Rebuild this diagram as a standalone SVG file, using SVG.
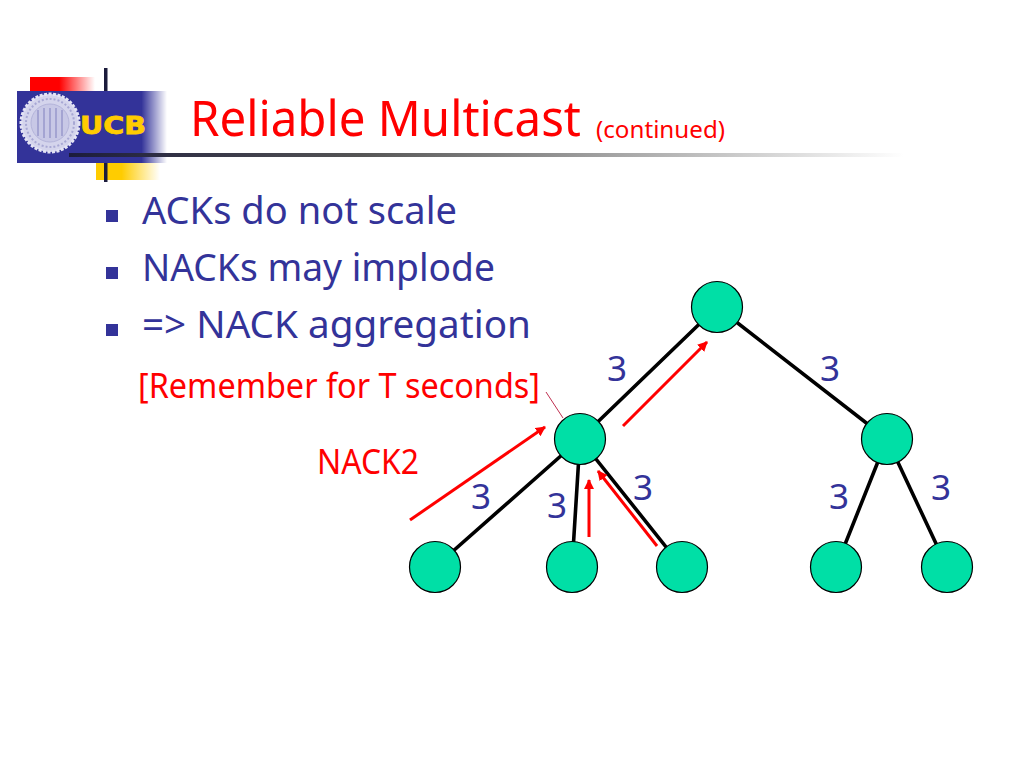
<svg xmlns="http://www.w3.org/2000/svg" width="1024" height="768" viewBox="0 0 1024 768">
<style>
.n{fill:#00dfa6;stroke:#000;stroke-width:1.2}
.e{stroke:#000;stroke-width:3.6;fill:none}
.a{stroke:#f00;stroke-width:3;fill:none;marker-end:url(#ah)}
.b{font-family:"Noto Sans","DejaVu Sans",sans-serif;fill:#333399}
.r{font-family:"Noto Sans","DejaVu Sans",sans-serif;fill:#f00}
.w{font-size:39px}
.l{font-size:35px}
</style>
<defs>
<marker id="ah" markerUnits="userSpaceOnUse" markerWidth="12" markerHeight="12" refX="9" refY="5" orient="auto"><path d="M0 0L10 5L0 10Z" fill="#f00"/></marker>
<linearGradient id="gr"><stop offset="0.45" stop-color="#f00"/><stop offset="1" stop-color="#f00" stop-opacity="0"/></linearGradient>
<linearGradient id="gy"><stop offset="0.4" stop-color="#ffcc00"/><stop offset="1" stop-color="#ffcc00" stop-opacity="0"/></linearGradient>
<linearGradient id="gb"><stop offset="0.83" stop-color="#333399"/><stop offset="1" stop-color="#333399" stop-opacity="0"/></linearGradient>
<linearGradient id="gl"><stop offset="0" stop-color="#1c1c3c"/><stop offset="0.35" stop-color="#555"/><stop offset="1" stop-color="#fff"/></linearGradient>
</defs>
<rect width="1024" height="768" fill="#fff"/>
<g id="logo">
<rect x="30" y="77" width="65" height="15" fill="url(#gr)"/>
<rect x="96" y="163" width="64" height="17" fill="url(#gy)"/>
<rect x="17" y="91" width="150" height="72" fill="url(#gb)"/>
<rect x="104" y="68" width="3.5" height="23" fill="#1c1c3c"/>
<rect x="104" y="163" width="3.5" height="19" fill="#1c1c3c"/>
<circle cx="50" cy="123" r="29" fill="#d4d4ec" stroke="#e4e4f4" stroke-width="3" stroke-dasharray="3 1.5"/>
<circle cx="50" cy="123" r="24" fill="none" stroke="#a8a8d4" stroke-width="2" stroke-dasharray="2 2"/>
<circle cx="50" cy="123" r="19" fill="#c8c8e6" stroke="#b4b4da" stroke-width="1"/>
<path d="M38 110V136M44 108V138M50 108V138M56 108V138M62 110V136" stroke="#a4a4d2" stroke-width="2"/>
<text x="80" y="134" font-family="'DejaVu Sans',sans-serif" font-weight="700" font-size="25" fill="#ffcc00" stroke="#ffcc00" stroke-width="0.8" textLength="66" lengthAdjust="spacingAndGlyphs">UCB</text>
</g>
<rect id="rule" x="69" y="153" width="835" height="4" fill="url(#gl)"/>
<text id="title" class="r" x="190" y="136" font-size="49" textLength="391" lengthAdjust="spacingAndGlyphs">Reliable Multicast</text>
<text id="subtitle" class="r" x="596" y="138" font-size="24" textLength="129" lengthAdjust="spacingAndGlyphs">(continued)</text>
<g id="bullets">
<rect x="106" y="210" width="12" height="12" fill="#333399"/>
<rect x="106" y="267" width="12" height="12" fill="#333399"/>
<rect x="106" y="324" width="12" height="12" fill="#333399"/>
<text class="b w" x="142" y="224" textLength="315" lengthAdjust="spacingAndGlyphs">ACKs do not scale</text>
<text class="b w" x="142" y="281" textLength="353" lengthAdjust="spacingAndGlyphs">NACKs may implode</text>
<text class="b w" x="142" y="338" textLength="389" lengthAdjust="spacingAndGlyphs">=&gt; NACK aggregation</text>
</g>
<text id="remember" class="r" x="138" y="398" font-size="35" textLength="402" lengthAdjust="spacingAndGlyphs">[Remember for T seconds]</text>
<text id="nack2" class="r" x="317" y="474" font-size="34" textLength="102" lengthAdjust="spacingAndGlyphs">NACK2</text>
<g id="connectors">
<path class="e" d="M717 307L580 439M717 307L887 439M580 439L435 567M580 439L572 567M580 439L682 567M887 439L836 567M887 439L947 567"/>
<path d="M546 392L563 418" stroke="#c03050" stroke-width="1" fill="none"/>
<path class="a" d="M623 426L707 342"/>
<path class="a" d="M410 520L545 427"/>
<path class="a" d="M589 537V480"/>
<path class="a" d="M657 546L598 471"/>
</g>
<g id="labels">
<text class="b l" x="607" y="381">3</text>
<text class="b l" x="820" y="381">3</text>
<text class="b l" x="471" y="509">3</text>
<text class="b l" x="547" y="518">3</text>
<text class="b l" x="633" y="500">3</text>
<text class="b l" x="829" y="509">3</text>
<text class="b l" x="931" y="500">3</text>
</g>
<g id="node-root"><circle class="n" cx="717" cy="307" r="25.5"/></g>
<g id="node-a"><circle class="n" cx="580" cy="439" r="25.5"/></g>
<g id="node-b"><circle class="n" cx="887" cy="439" r="25.5"/></g>
<g id="node-a1"><circle class="n" cx="435" cy="567" r="25.5"/></g>
<g id="node-a2"><circle class="n" cx="572" cy="567" r="25.5"/></g>
<g id="node-a3"><circle class="n" cx="682" cy="567" r="25.5"/></g>
<g id="node-b1"><circle class="n" cx="836" cy="567" r="25.5"/></g>
<g id="node-b2"><circle class="n" cx="947" cy="567" r="25.5"/></g>
</svg>
